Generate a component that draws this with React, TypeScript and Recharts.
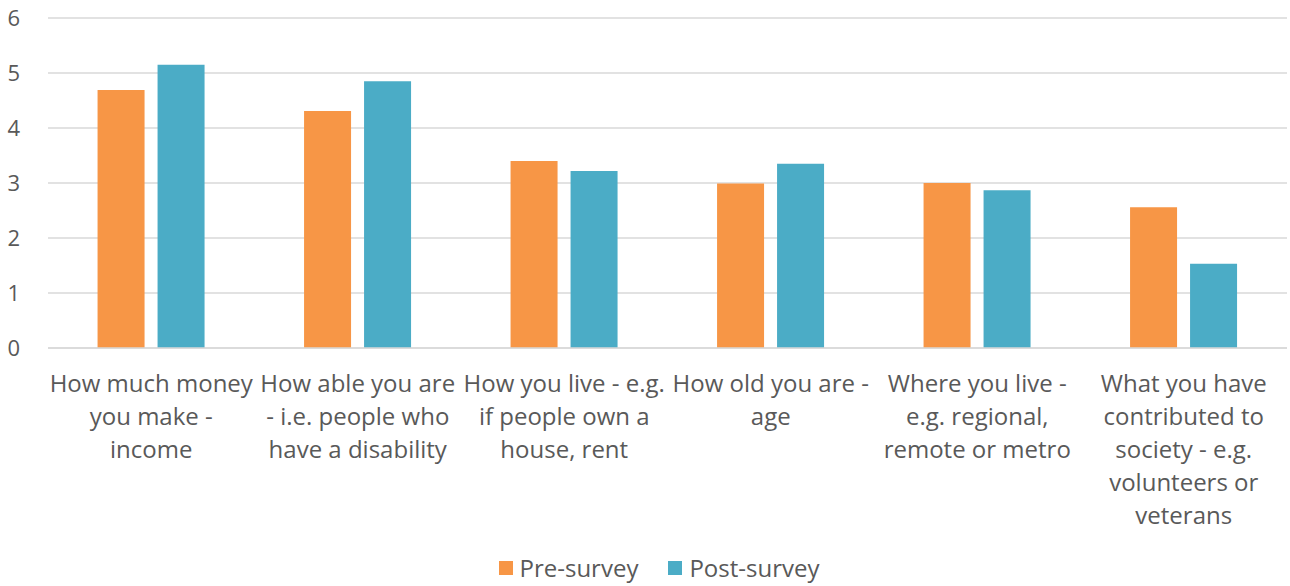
import { BarChart, Bar, XAxis, YAxis, CartesianGrid, Legend } from 'recharts'

// tick labels, already split into the lines the reference wraps them to
const categories: string[][] = [
  ['How much money', 'you make -', 'income'],
  ['How able you are', '- i.e. people who', 'have a disability'],
  ['How you live - e.g.', 'if people own a', 'house, rent'],
  ['How old you are -', 'age'],
  ['Where you live -', 'e.g. regional,', 'remote or metro'],
  ['What you have', 'contributed to', 'society - e.g.', 'volunteers or', 'veterans'],
]

const preSurvey = [4.69, 4.31, 3.4, 2.99, 3.0, 2.56]
const postSurvey = [5.15, 4.85, 3.22, 3.35, 2.87, 1.53]

const yTicks = [0, 1, 2, 3, 4, 5, 6]

const series = [
  { key: 'pre', name: 'Pre-survey', color: '#F79646' },
  { key: 'post', name: 'Post-survey', color: '#4BACC6' },
]

const FONT = '"Open Sans", sans-serif'
const TEXT = '#595959'

const data = categories.map((lines, i) => ({
  name: lines.join(' '),
  pre: preSurvey[i],
  post: postSurvey[i],
}))

function CategoryTick({ x, y, index }: any) {
  const lines = categories[index] || []
  return (
    <text x={x} y={y} textAnchor="middle" fill={TEXT} fontSize={24} fontFamily={FONT}>
      {lines.map((line, i) => (
        <tspan key={i} x={x} y={y + 36 + i * 33}>
          {line}
        </tspan>
      ))}
    </text>
  )
}

function LegendBox() {
  return (
    <div
      style={{
        display: 'flex',
        justifyContent: 'center',
        alignItems: 'center',
        gap: 30,
        paddingLeft: 31,
        paddingTop: 5,
      }}
    >
      {series.map((s) => (
        <div key={s.key} style={{ display: 'flex', alignItems: 'center', gap: 7 }}>
          <span style={{ width: 14, height: 14, background: s.color, display: 'inline-block' }} />
          <span style={{ color: TEXT, fontSize: 24, fontFamily: FONT, lineHeight: '30px' }}>{s.name}</span>
        </div>
      ))}
    </div>
  )
}

export default function App() {
  return (
    <div style={{ position: 'absolute', left: 0, top: 0, background: '#fff' }}>
      <BarChart
        width={1290}
        height={586}
        data={data}
        margin={{ top: 18, right: 3, bottom: 0, left: 0 }}
        barGap={13}
        barCategoryGap="24%"
      >
        <CartesianGrid vertical={false} stroke="#D9D9D9" strokeWidth={1.5} />
        <XAxis
          dataKey="name"
          height={200}
          axisLine={{ stroke: '#D9D9D9', strokeWidth: 1.5 }}
          tickLine={false}
          interval={0}
          tick={<CategoryTick />}
        />
        <YAxis
          width={48}
          domain={[0, 6]}
          ticks={yTicks}
          axisLine={false}
          tickLine={false}
          tickMargin={22}
          tick={{ fill: TEXT, fontSize: 22, fontFamily: FONT }}
        />
        <Legend verticalAlign="bottom" height={38} content={<LegendBox />} />
        {series.map((s) => (
          <Bar key={s.key} dataKey={s.key} name={s.name} fill={s.color} isAnimationActive={false} />
        ))}
      </BarChart>
    </div>
  )
}
